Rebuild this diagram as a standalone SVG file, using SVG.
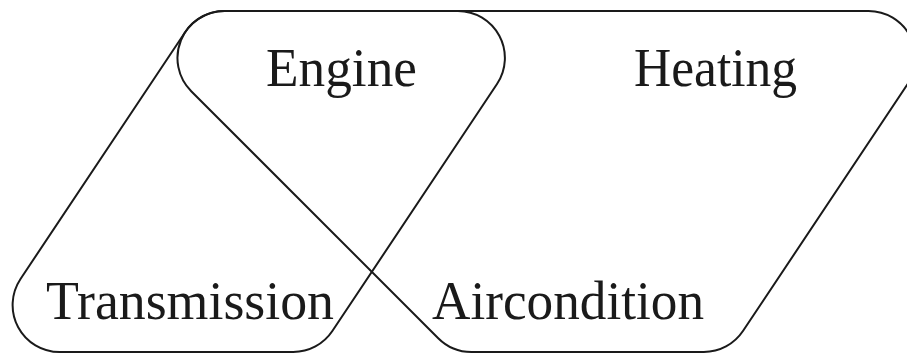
<svg xmlns="http://www.w3.org/2000/svg" width="907" height="355" viewBox="0 0 907 355">
<style>
.shape{fill:none;stroke:#1a1a1a;stroke-width:2;stroke-linejoin:round}
.lbl{font-family:"Liberation Serif","DejaVu Serif",serif;font-size:55px;fill:#1a1a1a}
</style>
<rect width="907" height="355" fill="#ffffff"/>
<g id="set-engine-transmission">
<path class="shape" d="M224.35,11 L457.9,11 A47,47 0 0 1 497.0,84.06 L332.35,331.07 A47,47 0 0 1 293.25,352 L59.6,352 A47,47 0 0 1 20.5,278.94 L185.25,31.93 A47,47 0 0 1 224.35,11 Z"/>
</g>
<g id="set-engine-heating-aircondition">
<path class="shape" d="M224.47,11 L868.53,11 A47,47 0 0 1 907.63,84.06 L742.95,331.07 A47,47 0 0 1 703.85,352 L471.47,352 A47,47 0 0 1 438.23,338.23 L191.24,91.24 A47,47 0 0 1 224.47,11 Z"/>
</g>
<g id="node-engine"><text class="lbl" x="266" y="86" textLength="151" lengthAdjust="spacingAndGlyphs">Engine</text></g>
<g id="node-heating"><text class="lbl" x="634" y="86" textLength="163" lengthAdjust="spacingAndGlyphs">Heating</text></g>
<g id="node-transmission"><text class="lbl" x="46" y="319" textLength="288" lengthAdjust="spacingAndGlyphs">Transmission</text></g>
<g id="node-aircondition"><text class="lbl" x="432" y="319" textLength="272" lengthAdjust="spacingAndGlyphs">Aircondition</text></g>
</svg>
